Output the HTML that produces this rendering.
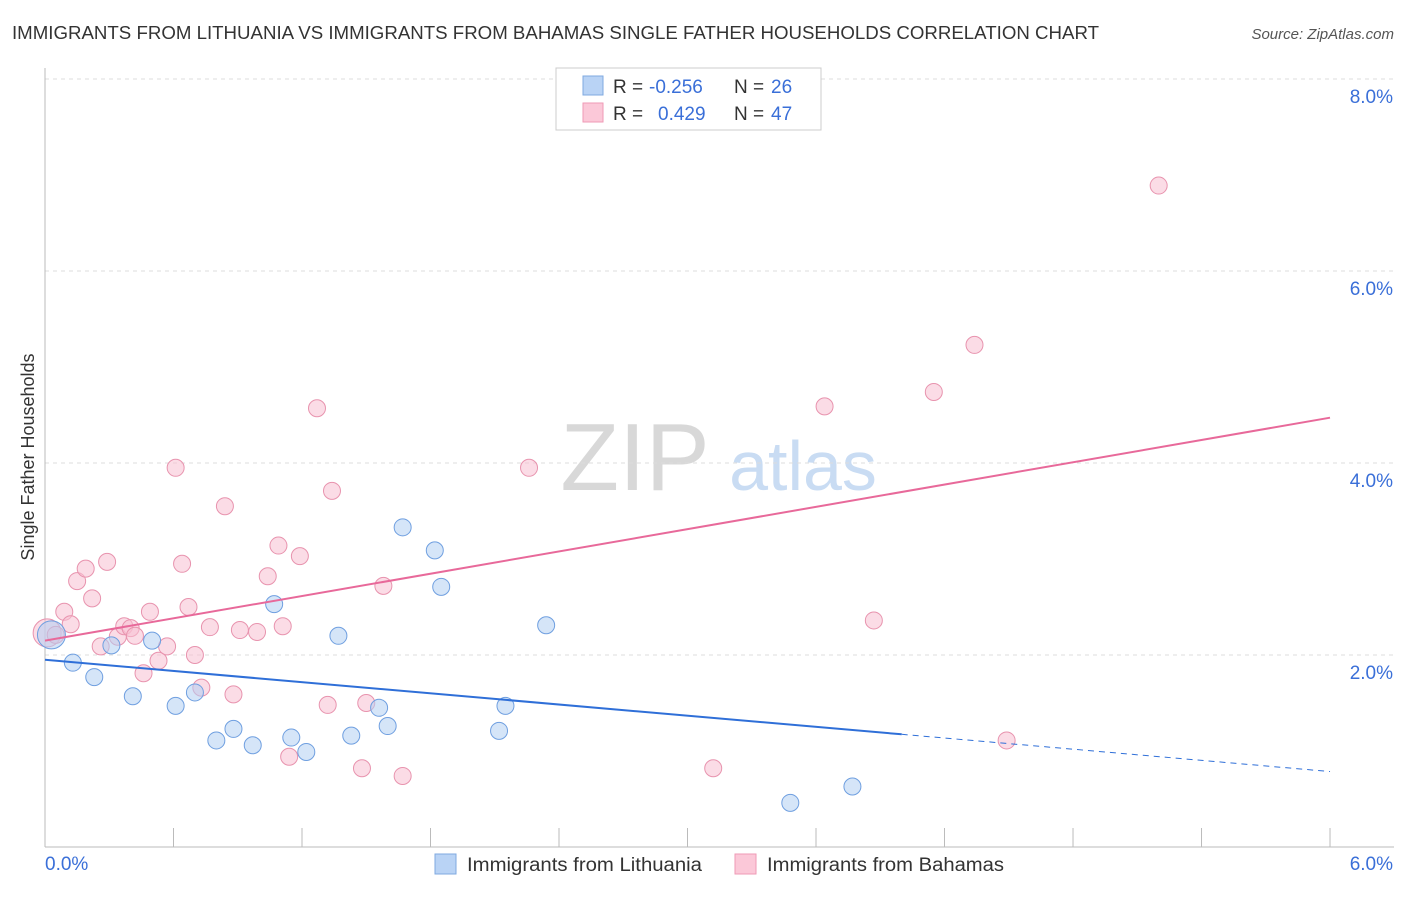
<!DOCTYPE html>
<html><head><meta charset="utf-8"><style>
body{margin:0;background:#fff;font-family:"Liberation Sans",sans-serif}
svg text{font-family:"Liberation Sans",sans-serif}
</style></head><body>
<svg id="c" width="1406" height="892" xmlns="http://www.w3.org/2000/svg">
<text x="12" y="39" font-size="18" fill="#333" textLength="1087" lengthAdjust="spacingAndGlyphs">IMMIGRANTS FROM LITHUANIA VS IMMIGRANTS FROM BAHAMAS SINGLE FATHER HOUSEHOLDS CORRELATION CHART</text>
<text x="1394" y="39" font-size="15" fill="#555" font-style="italic" text-anchor="end">Source: ZipAtlas.com</text>
<text x="635" y="490" font-size="96" fill="#d8d8d8" font-family="Liberation Serif" text-anchor="middle">ZIP</text>
<text x="803" y="490" font-size="70" fill="#c9dcf3" text-anchor="middle">atlas</text>
<text transform="translate(34,457) rotate(-90)" font-size="18" fill="#333" text-anchor="middle">Single Father Households</text>
<g id="grid"></g><g id="pts"></g><g id="lines"></g>
<g>
<rect x="556" y="68" width="265" height="62" fill="#fff" stroke="#ccc"/>
<rect x="583" y="76" width="20" height="19" fill="#b9d3f5" stroke="#7fa9e0"/>
<rect x="583" y="103" width="20" height="19" fill="#fbc8d8" stroke="#ef9ab6"/>
<text x="613" y="93" font-size="19" fill="#333">R =</text>
<text x="649" y="93" font-size="19" fill="#3a6fd8">-0.256</text>
<text x="734" y="93" font-size="19" fill="#333">N =</text>
<text x="771" y="93" font-size="19" fill="#3a6fd8">26</text>
<text x="613" y="120" font-size="19" fill="#333">R =</text>
<text x="658" y="120" font-size="19" fill="#3a6fd8">0.429</text>
<text x="734" y="120" font-size="19" fill="#333">N =</text>
<text x="771" y="120" font-size="19" fill="#3a6fd8">47</text>
</g>
<g>
<rect x="435" y="854" width="21" height="20" fill="#b9d3f5" stroke="#7fa9e0"/>
<text x="467" y="871" font-size="19" fill="#333" textLength="235" lengthAdjust="spacingAndGlyphs">Immigrants from Lithuania</text>
<rect x="735" y="854" width="21" height="20" fill="#fbc8d8" stroke="#ef9ab6"/>
<text x="767" y="871" font-size="19" fill="#333" textLength="237" lengthAdjust="spacingAndGlyphs">Immigrants from Bahamas</text>
</g>
</svg>
<script>
const blueX=[0.03,0.13,0.23,0.31,0.41,0.50,0.61,0.70,0.80,0.88,0.97,1.07,1.15,1.22,1.37,1.43,1.56,1.60,1.67,1.82,1.85,2.12,2.15,2.34,3.48,3.77];
const blueY=[2.21,1.92,1.77,2.10,1.57,2.15,1.47,1.61,1.11,1.23,1.06,2.53,1.14,0.99,2.20,1.16,1.45,1.26,3.33,3.09,2.71,1.21,1.47,2.31,0.46,0.63];
const pinkX=[0.01,0.05,0.09,0.12,0.15,0.19,0.22,0.26,0.29,0.34,0.37,0.40,0.42,0.46,0.49,0.53,0.57,0.61,0.64,0.67,0.70,0.73,0.77,0.84,0.88,0.91,0.99,1.04,1.09,1.11,1.14,1.19,1.27,1.32,1.34,1.48,1.50,1.58,1.67,2.26,3.12,3.64,3.87,4.15,4.34,4.49,5.20];
const pinkY=[2.23,2.21,2.45,2.32,2.77,2.90,2.59,2.09,2.97,2.19,2.30,2.28,2.20,1.81,2.45,1.94,2.09,3.95,2.95,2.50,2.00,1.66,2.29,3.55,1.59,2.26,2.24,2.82,3.14,2.30,0.94,3.03,4.57,1.48,3.71,0.82,1.50,2.72,0.74,3.95,0.82,4.59,2.36,4.74,5.23,1.11,6.89];
const blueTrend=[1.95,-0.194];
const pinkTrend=[2.15,0.387];
const yTicks=[2,4,6,8];
const xTickLabels=["0.0%","6.0%"];
const X=v=>45+v*214.17, Y=v=>847-v*96;
const NS="http://www.w3.org/2000/svg";
function mk(p,t,a){const e=document.createElementNS(NS,t);for(const k in a)e.setAttribute(k,a[k]);p.appendChild(e);return e;}
const grid=document.getElementById('grid');
for(const t of yTicks){
 const l=mk(grid,'line',{x1:45,x2:1394,y1:Y(t),y2:Y(t),stroke:'#ddd','stroke-dasharray':'4,4'});
 
 
 const tx=mk(grid,'text',{x:1393,y:Y(t)+24,'font-size':19,fill:'#3a6fd8','text-anchor':'end'});
 tx.textContent=t.toFixed(1)+'%';
 
 
}
const ax=mk(grid,'line',{x1:45,x2:45,y1:68,y2:847,stroke:'#bbb'});


const bx=mk(grid,'line',{x1:45,x2:1394,y1:847,y2:847,stroke:'#bbb'});


for(let i=0;i<=10;i++){
 const tk=mk(grid,'line',{x1:X(i*0.6),x2:X(i*0.6),y1:828,y2:847,stroke:'#bbb'});
 
 
}
const l0=mk(grid,'text',{x:45,y:870,'font-size':19,fill:'#3a6fd8'});l0.textContent=xTickLabels[0];


const l1=mk(grid,'text',{x:1393,y:870,'font-size':19,fill:'#3a6fd8','text-anchor':'end'});l1.textContent=xTickLabels[1];


const pts=document.getElementById('pts');
function dots(xs,ys,fill,stroke,name){
 xs.forEach((x,i)=>{
  const c=mk(pts,'circle',{cx:X(x),cy:Y(ys[i]),r:i===0?14:8.5,fill:fill,'fill-opacity':0.55,stroke:stroke,'stroke-width':1});
  
  
 });
}
dots(pinkX,pinkY,'#f8bfd1','#e893ae','bahamas-point');
dots(blueX,blueY,'#b3cff3','#6f9fe0','lithuania-point');
const lines=document.getElementById('lines');
const b1=mk(lines,'line',{x1:X(0),y1:Y(blueTrend[0]),x2:X(4),y2:Y(blueTrend[0]+blueTrend[1]*4),stroke:'#2f6fd8','stroke-width':2});


const b2=mk(lines,'line',{x1:X(4),y1:Y(blueTrend[0]+blueTrend[1]*4),x2:X(6),y2:Y(blueTrend[0]+blueTrend[1]*6),stroke:'#2f6fd8','stroke-width':1,'stroke-dasharray':'6,5'});


const p1=mk(lines,'line',{x1:X(0),y1:Y(pinkTrend[0]),x2:X(6),y2:Y(pinkTrend[0]+pinkTrend[1]*6),stroke:'#e8699a','stroke-width':2});


</script>
</body></html>
